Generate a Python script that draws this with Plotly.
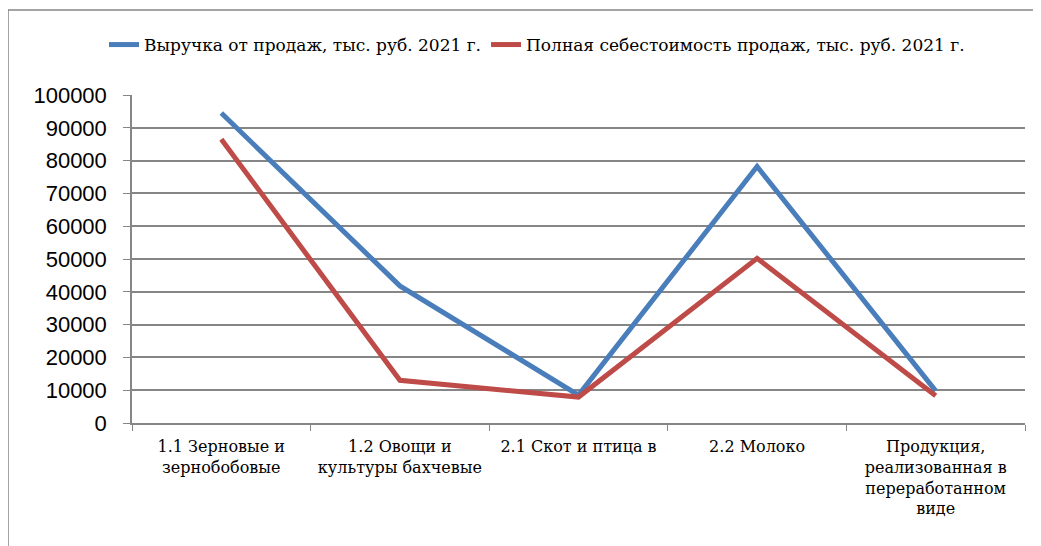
import plotly.graph_objects as go

categories = ["1.1 Зерновые и<br>зернобобовые", "1.2 Овощи и<br>культуры бахчевые",
              "2.1 Скот и птица в", "2.2 Молоко",
              "Продукция,<br>реализованная в<br>переработанном<br>виде"]
revenue = [94500, 41800, 8500, 78200, 9800]
cost = [86500, 13000, 7900, 50200, 8300]
name_rev = "Выручка от продаж, тыс. руб. 2021 г."
name_cost = "Полная себестоимость продаж, тыс. руб. 2021 г."
y_ticks = list(range(0, 100001, 10000))

SANS = "Liberation Sans, Arial, sans-serif"
SERIF = "DejaVu Serif, serif"

fig = go.Figure()
fig.add_trace(go.Scatter(x=categories, y=revenue, name=name_rev, mode="lines",
                         line=dict(color="#4A7EBB", width=5)))
fig.add_trace(go.Scatter(x=categories, y=cost, name=name_cost, mode="lines",
                         line=dict(color="#BE4B48", width=5)))

OFF = 8  # page body margin
W, H = 1041, 546
L, T = 132 - OFF, 95 - OFF
R = W - (1025 - OFF)
B = H - (423 - OFF)
pw, ph = W - L - R, H - T - B

def px(xp):
    return (xp - OFF - L) / pw

def py(yp):
    return (H - B - (yp - OFF)) / ph

fig.update_layout(
    width=W, height=H,
    margin=dict(l=L, r=R, t=T, b=B, autoexpand=False),
    paper_bgcolor="white", plot_bgcolor="white",
    showlegend=True,
    legend=dict(orientation="h", x=px(537), xanchor="center", y=py(45), yanchor="middle",
                font=dict(family=SERIF, size=17, color="black"),
                bgcolor="rgba(0,0,0,0)"),
    xaxis=dict(type="category", range=[-0.5, 4.5], showgrid=False, automargin=False,
               showline=True, linecolor="#868686", linewidth=1.5,
               ticks="outside", tickson="boundaries", ticklen=6, tickcolor="#868686",
               ticklabelstandoff=8,
               tickfont=dict(family=SERIF, size=16, color="black")),
    yaxis=dict(range=[0, 100000], tickvals=y_ticks, tickformat="d", automargin=False,
               showgrid=True, gridcolor="#868686",
               gridwidth=1.5, showline=True, linecolor="#868686", linewidth=1.5,
               ticks="outside", ticklen=7, tickcolor="#868686", zeroline=False,
               ticklabelstandoff=12,
               tickfont=dict(family=SANS, size=22, color="black")),
    shapes=[dict(type="rect", xref="paper", yref="paper",
                 x0=px(8), x1=px(1060), y0=py(570), y1=py(10),
                 line=dict(color="#868686", width=1.5))],
)

fig.write_html("out.html")
